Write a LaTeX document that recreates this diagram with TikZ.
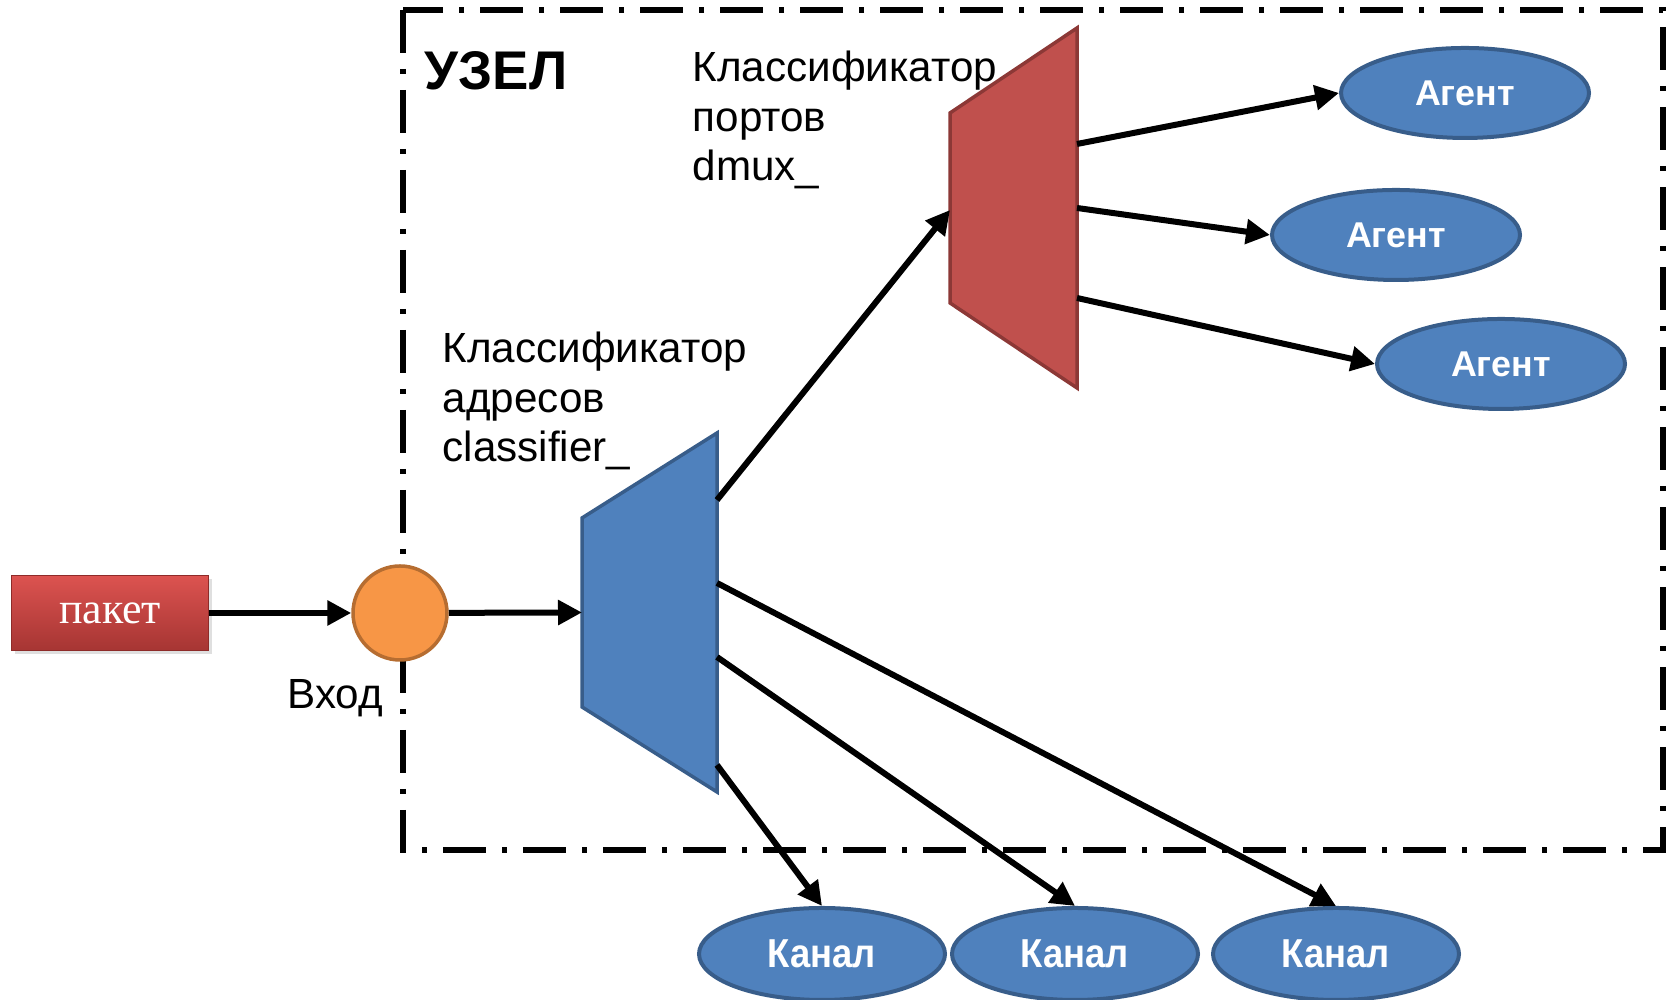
\documentclass[tikz,border=0pt]{standalone}
\usepackage{fontspec}
\setmainfont{Liberation Sans}
\newfontfamily\paketfont{Liberation Serif}
\newfontfamily\kanalfont[FakeStretch=0.9]{Liberation Sans}
\usetikzlibrary{shapes.geometric,arrows.meta,shadows}

\definecolor{nodeblue}{HTML}{4F81BD}
\definecolor{nodeblueline}{HTML}{385D8A}
\definecolor{dmuxred}{HTML}{C0504D}
\definecolor{dmuxline}{HTML}{8C3836}
\definecolor{vhodorange}{HTML}{F79646}
\definecolor{vhodline}{HTML}{B66D31}
\definecolor{pakettop}{HTML}{DC5350}
\definecolor{paketbot}{HTML}{A63533}
\definecolor{paketline}{HTML}{8E2B29}

\begin{document}
\begin{tikzpicture}[
 arr/.style={line width=0.06cm,-{Triangle[length=0.24cm,width=0.24cm]}},
 agent/.style={ellipse,draw=nodeblueline,fill=nodeblue,line width=0.04cm,minimum width=2.48cm,minimum height=0.9cm,inner sep=0pt,text=white,font=\bfseries\fontsize{10.2}{12}\selectfont},
 kanal/.style={agent,minimum width=2.46cm,minimum height=0.92cm,font=\kanalfont\bfseries\fontsize{11.5}{13}\selectfont},
 clstext/.style={anchor=base west,align=left,inner sep=0pt,font=\fontsize{12}{14.2}\selectfont}
]
\useasboundingbox (0,0) rectangle (16.69,10);

% node boundary
\draw[line width=0.06cm,dash pattern=on 0.43cm off 0.16cm on 0.05cm off 0.16cm] (4.03,9.90) rectangle (16.63,1.50);
\node[anchor=base west,inner sep=0pt,font=\bfseries\fontsize{15.5}{18}\selectfont] (uzel) at (4.24,9.10) {УЗЕЛ};

% classifiers
\draw[draw=nodeblueline,fill=nodeblue,line width=0.035cm] (5.82,4.82) -- (7.17,5.67) -- (7.17,2.08) -- (5.82,2.93) -- cycle;
\draw[draw=dmuxline,fill=dmuxred,line width=0.035cm] (9.50,8.87) -- (10.77,9.72) -- (10.77,6.12) -- (9.50,6.97) -- cycle;

\coordinate (clsin) at (5.82,3.875);
\coordinate (clsup) at (7.17,5.00);
\coordinate (clsk1) at (7.17,2.35);
\coordinate (clsk2) at (7.17,3.43);
\coordinate (clsk3) at (7.17,4.17);
\coordinate (dmuxin) at (9.50,7.90);
\coordinate (dmuxa1) at (10.77,8.56);
\coordinate (dmuxa2) at (10.77,7.92);
\coordinate (dmuxa3) at (10.77,7.02);

% text baseline is the last line
\node[clstext] (dmuxtext) at (6.92,8.19) {Классификатор\\портов\\dmux\_};
\node[clstext] (clstext) at (4.42,5.38) {Классификатор\\адресов\\classifier\_};

% input
\node[rectangle,draw=paketline,top color=pakettop,bottom color=paketbot,drop shadow={opacity=0.25,shadow xshift=0.03cm,shadow yshift=-0.04cm},minimum width=1.97cm,minimum height=0.75cm,text=white,font=\paketfont\fontsize{12.5}{14}\selectfont] (paket) at (1.10,3.87) {пакет};
\node[circle,draw=vhodline,fill=vhodorange,line width=0.035cm,minimum size=0.94cm] (vhod) at (4.00,3.87) {};
\node[clstext] (vhodtext) at (2.87,2.91) {Вход};

% agents and links
\node[agent] (ag1) at (14.65,9.07) {Агент};
\node[agent] (ag2) at (13.96,7.65) {Агент};
\node[agent] (ag3) at (15.01,6.36) {Агент};
\node[kanal] (kan1) at (8.22,0.46) {Канал};
\node[kanal] (kan2) at (10.75,0.46) {Канал};
\node[kanal] (kan3) at (13.36,0.46) {Канал};

\draw[arr] (paket) -- (vhod);
\draw[arr] (vhod) -- (clsin);
\draw[arr] (clsup) -- (dmuxin);
\draw[arr] (clsk1) -- (kan1.north);
\draw[arr] (clsk2) -- (kan2.north);
\draw[arr] (clsk3) -- (kan3.north);
\draw[arr] (dmuxa1) -- (ag1.west);
\draw[arr] (dmuxa2) -- (ag2.west);
\draw[arr] (dmuxa3) -- (ag3.west);
\end{tikzpicture}
\end{document}
